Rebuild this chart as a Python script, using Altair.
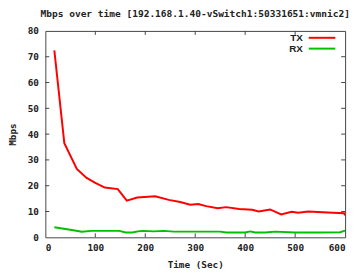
import altair as alt
import pandas as pd

tx_time = [18, 38, 63, 82, 99, 119, 145, 163, 184, 220, 247, 270, 290, 306, 322, 345, 362, 388, 414, 427, 450, 472, 493, 506, 526, 565, 598, 600]
tx_mbps = [72.5, 36.5, 26.5, 23.1, 21.2, 19.3, 18.7, 14.2, 15.4, 15.9, 14.5, 13.7, 12.6, 12.9, 12.1, 11.3, 11.7, 11.0, 10.7, 10.0, 10.8, 8.9, 9.9, 9.5, 10.0, 9.6, 9.3, 8.5]

rx_time = [18, 53, 73, 92, 148, 161, 174, 188, 197, 217, 237, 257, 300, 350, 362, 400, 410, 420, 440, 460, 500, 550, 590, 600]
rx_mbps = [3.9, 2.8, 2.2, 2.5, 2.5, 1.9, 1.9, 2.4, 2.5, 2.3, 2.5, 2.2, 2.2, 2.2, 1.9, 1.9, 2.3, 1.9, 1.9, 2.2, 1.9, 1.9, 2.0, 2.6]

x_ticks = [0, 100, 200, 300, 400, 500, 600]
y_ticks = [0, 10, 20, 30, 40, 50, 60, 70, 80]

series = ["TX", "RX"]
colors = ["#ff0000", "#00c000"]

W, H = 305, 210
FONT = "DejaVu Sans Mono"

df = pd.concat([
    pd.DataFrame({"t": tx_time, "v": tx_mbps, "s": "TX"}),
    pd.DataFrame({"t": rx_time, "v": rx_mbps, "s": "RX"}),
])

xs = alt.Scale(domain=[0, 600], nice=False)
ys = alt.Scale(domain=[0, 80], nice=False)
cs = alt.Scale(domain=series, range=colors)

x_axis = alt.Axis(values=x_ticks, title="Time (Sec)", ticks=False, domain=False,
                  grid=False, labelPadding=5, titlePadding=8, labelOverlap=False)
y_axis = alt.Axis(values=y_ticks, title="Mbps", ticks=False, domain=False,
                  grid=False, labelPadding=7, titlePadding=10, labelOverlap=False)

lines = alt.Chart(df).mark_line(strokeWidth=2, clip=True).encode(
    x=alt.X("t:Q", scale=xs, axis=x_axis, title="Time (Sec)"),
    y=alt.Y("v:Q", scale=ys, axis=y_axis, title="Mbps"),
    color=alt.Color("s:N", scale=cs, legend=None),
    detail="s:N",
)

inner_x = pd.DataFrame({"t": x_ticks[1:-1]})
inner_y = pd.DataFrame({"v": y_ticks[1:-1]})

bot = alt.Chart(inner_x).mark_rule(color="#444", strokeWidth=1).encode(
    x=alt.X("t:Q", scale=xs, axis=x_axis, title="Time (Sec)"), y=alt.value(H), y2=alt.value(H - 4))
top = alt.Chart(inner_x).mark_rule(color="#444", strokeWidth=1).encode(
    x=alt.X("t:Q", scale=xs, axis=x_axis, title="Time (Sec)"), y=alt.value(0), y2=alt.value(4))
left = alt.Chart(inner_y).mark_rule(color="#444", strokeWidth=1).encode(
    y=alt.Y("v:Q", scale=ys, axis=y_axis, title="Mbps"), x=alt.value(0), x2=alt.value(4))
right = alt.Chart(inner_y).mark_rule(color="#444", strokeWidth=1).encode(
    y=alt.Y("v:Q", scale=ys, axis=y_axis, title="Mbps"), x=alt.value(W), x2=alt.value(W - 4))

legend_layers = []
for i, (name, col) in enumerate(zip(series, colors)):
    ld = pd.DataFrame({"s": [name]})
    yy = 7 + 11 * i
    legend_layers.append(alt.Chart(ld).mark_text(align="right", baseline="middle", font="Liberation Sans",
                                                 fontSize=10, fontWeight="bold", color="#222").encode(
        text="s:N", x=alt.value(262), y=alt.value(yy)))
    legend_layers.append(alt.Chart(ld).mark_rule(strokeWidth=2, color=col).encode(
        x=alt.value(268), x2=alt.value(295), y=alt.value(yy)))

chart = alt.layer(lines, bot, top, left, right, *legend_layers).properties(
    width=W, height=H,
    autosize="none",
    padding={"left": 38, "top": 21, "right": 6, "bottom": 35},
    title=alt.TitleParams("Mbps over time [192.168.1.40-vSwitch1:50331651:vmnic2]",
                          font=FONT, fontSize=9.7, fontWeight="bold", color="#222", offset=7,
                          anchor="middle", frame="group"),
).configure_view(stroke="#444", strokeWidth=1).configure_axis(
    labelFont=FONT, labelFontSize=9.5, labelFontWeight="bold", labelColor="#222",
    titleFont=FONT, titleFontSize=9.5, titleFontWeight="bold", titleColor="#222",
)

chart.save("out.html", embed_options={"renderer": "svg", "actions": False})
